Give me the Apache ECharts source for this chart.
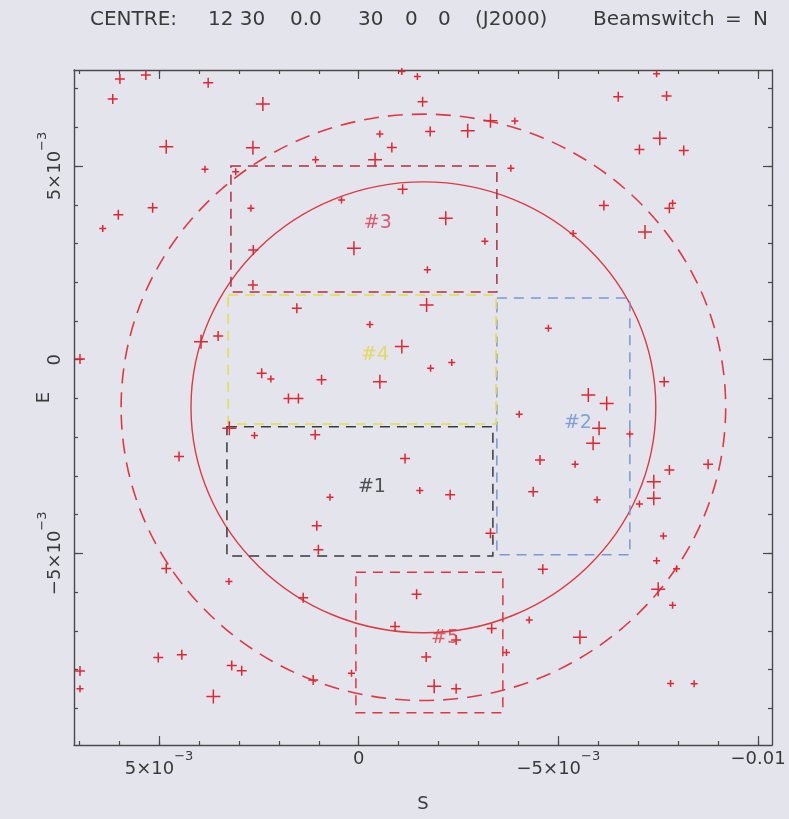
<!DOCTYPE html>
<html>
<head>
<meta charset="utf-8">
<title>Field map</title>
<script src="https://cdn.jsdelivr.net/npm/echarts@6/dist/echarts.min.js"></script>
<style>
  html, body { margin: 0; padding: 0; background: #e4e4ed; }
  #chart { width: 789px; height: 819px; }
</style>
</head>
<body>
<div id="chart"></div>
<script>
// Offsets from the field centre, in units of 1e-3 (S runs right-to-left).
const sourceS = [
  5.98, 5.33, 3.77, 6.16, 2.40, 4.82, 2.65, 3.85, 3.08, -0.53,
  -0.83, -0.41, 1.08, -1.10, 0.43, 6.02, 5.16, 6.41, 2.70, 0.12,
  2.64, 2.65, -1.08, 1.55, -1.47, -1.60, -6.50, -7.71, -7.46, -1.79,
  -2.73, -3.30, -3.91, -7.54, -7.03, -8.14, -3.81, -2.18, -3.16, -5.37,
  -6.14, -7.78, -7.86, -7.17, -1.72, -1.70, -0.28, -1.08, 3.95, 3.52,
  6.98, 2.43, 2.20, 0.93, -0.53, 1.76, 1.51, 3.24, 2.61, 1.09,
  4.50, -1.16, 0.72, 1.05, -4.75, -1.80, -2.33, -5.75, -6.21, -4.02,
  -6.02, -5.87, -6.79, -7.65, -4.54, -5.42, -7.78, -8.75, -7.39, -7.39,
  -7.03, -1.53, -2.29, -4.37, -5.97, 1.01, 4.82, 3.25, 1.39, -0.91,
  5.02, 4.43, 3.18, 2.93, 3.64, 1.14, 0.18, 6.98, 6.98, -3.30,
  -7.63, -7.46, -7.96, -7.50, -7.86, -4.61, -1.45, -4.27, -3.33, -2.44,
  -1.69, -5.54, -3.70, -1.89, -2.44, -7.81, -8.40
];
const sourceE = [
  7.25, 7.35, 7.15, 6.73, 6.60, 5.50, 5.47, 4.92, 4.85, 5.83,
  5.48, 5.16, 5.16, 4.40, 4.12, 3.74, 3.92, 3.39, 3.91, 2.88,
  2.83, 1.93, 7.44, 1.33, 7.31, 6.66, 6.79, 6.81, 7.38, 5.89,
  5.91, 6.17, 6.16, 5.72, 5.43, 5.40, 4.94, 3.65, 3.06, 3.26,
  3.98, 3.91, 4.04, 3.30, 2.32, 1.41, 0.91, 0.34, 0.46, 0.61,
  0.02, -0.35, -0.50, -0.52, -0.57, -1.00, -1.00, -1.77, -1.96, -1.94,
  -2.50, -2.55, -3.55, -4.29, 0.81, -0.22, -0.07, -0.91, -1.13, -1.41,
  -1.77, -2.16, -1.92, -0.57, -2.59, -2.70, -2.85, -2.70, -3.15, -3.58,
  -3.73, -3.38, -3.49, -3.41, -3.62, -4.91, -5.39, -5.73, -6.15, -6.89,
  -7.69, -7.62, -7.90, -8.03, -8.70, -8.27, -8.10, -8.04, -8.50, -4.48,
  -4.55, -5.19, -5.40, -5.93, -6.34, -5.41, -6.06, -6.72, -6.94, -7.24,
  -7.68, -7.17, -7.56, -8.43, -8.50, -8.36, -8.37
];
// Brightness class of each source: 1 faint, 2 medium, 3 bright.
const sourceClass = [
  2, 2, 2, 2, 3, 3, 3, 1, 1, 1,
  2, 3, 1, 2, 1, 2, 2, 1, 1, 3,
  2, 2, 1, 2, 1, 2, 2, 2, 1, 2,
  3, 3, 1, 3, 2, 2, 1, 3, 1, 1,
  2, 2, 1, 3, 1, 3, 1, 3, 3, 2,
  2, 2, 1, 2, 3, 2, 2, 3, 1, 2,
  2, 2, 1, 2, 1, 1, 1, 3, 3, 1,
  3, 3, 1, 2, 2, 1, 2, 2, 3, 3,
  1, 1, 2, 2, 1, 2, 2, 1, 2, 2,
  2, 2, 2, 2, 3, 2, 1, 2, 1, 2,
  1, 1, 1, 3, 1, 2, 2, 1, 2, 2,
  2, 3, 1, 3, 2, 1, 1
];

// Survey regions (S1, S2, E1, E2) and their tags.
const regionNames = ['#1', '#2', '#3', '#4', '#5'];
const regionS1 = [3.30, -3.46, 3.20, 3.27, 0.07];
const regionS2 = [-3.36, -6.79, -3.46, -3.44, -3.61];
const regionE1 = [-1.73, 1.59, 5.00, 1.67, -5.49];
const regionE2 = [-5.07, -5.04, 1.75, -1.66, -9.12];
const tagS = [-0.33, -5.49, -0.48, -0.41, -2.16];
const tagE = [-3.29, -1.63, 3.53, 0.12, -7.19];

// Beam circles: centre (S, E) and radius.
const beamCentreS = -1.62;
const beamCentreE = -1.23;
const beamRadii = [5.82, 7.57];

// Axis ticks (units of 1e-3).
const sMajorTicks = [-10, -5, 0, 5];
const eMajorTicks = [-5, 0, 5];
const sMinorTicks = [-10, -9, -8, -7, -6, -5, -4, -3, -2, -1, 0, 1, 2, 3, 4, 5, 6, 7];
const eMinorTicks = [-9, -8, -7, -6, -5, -4, -3, -2, -1, 0, 1, 2, 3, 4, 5, 6, 7];
const sRange = [-10.35, 7.13];
const eRange = [-9.95, 7.48];

// Header line, split into fields.
const headerParts = ['CENTRE:', '12 30', '0.0', '30', '0', '0', '(J2000)', 'Beamswitch', '=', 'N'];
const headerStops = [85, 203, 285, 353, 400, 433, 470, 588, 720, 748];

const INK = '#4a4a4a';
const TEXT = '#3a3a3a';
const RED = '#e2262f';
const FONT = '"DejaVu Sans", sans-serif';
const regionColors = ['#3a3a3a', '#7b97d6', '#b32c40', '#e6dc48', '#e0363d'];
const tagColors = ['#2a2a2a', '#6d8fd2', '#d63a4e', '#e2d640', '#e0363d'];
const classSize = { 1: 7, 2: 10, 3: 14 };

function tickLabel(v) {
  if (v === 0) return '0';
  if (v === -10) return '\u22120.01';
  const sign = v < 0 ? '\u2212' : '';
  return '{m|' + sign + Math.abs(v) + '\u00d710}{s|\u22123}';
}
const labelRich = {
  m: { fontSize: 18, fontFamily: FONT, color: TEXT, verticalAlign: 'bottom', lineHeight: 28 },
  s: { fontSize: 13, fontFamily: FONT, color: TEXT, verticalAlign: 'top', lineHeight: 15 }
};

const headerRich = {};
headerParts.forEach((p, i) => {
  headerRich['p' + i] = { fontSize: 20, fontFamily: FONT, color: TEXT,
    width: i < headerParts.length - 1 ? headerStops[i + 1] - headerStops[i] : undefined };
});
const headerText = headerParts.map((p, i) => '{p' + i + '|' + p + '}').join('');

const gridBox = { left: 74, right: 17, top: 70, bottom: 74 };

function sAxis(grid, pos, major, withLabel) {
  return {
    type: 'value', gridIndex: grid, position: pos, inverse: true,
    min: sRange[0], max: sRange[1],
    axisLine: { show: major, onZero: false, lineStyle: { color: INK, width: 1.4 } },
    axisTick: { show: true, inside: true, length: major ? 9 : 4,
      customValues: major ? sMajorTicks : sMinorTicks,
      lineStyle: { color: INK, width: 1.2 } },
    axisLabel: { show: withLabel, customValues: sMajorTicks, formatter: tickLabel,
      rich: labelRich, margin: 5, color: TEXT, fontSize: 18, fontFamily: FONT },
    splitLine: { show: false },
    name: withLabel ? 'S' : '', nameLocation: 'middle', nameGap: 50, nameMoveOverlap: false,
    nameTextStyle: { fontSize: 18, fontFamily: FONT, color: TEXT }
  };
}
function eAxis(grid, pos, major, withLabel) {
  return {
    type: 'value', gridIndex: grid, position: pos,
    min: eRange[0], max: eRange[1],
    axisLine: { show: major, onZero: false, lineStyle: { color: INK, width: 1.4 } },
    axisTick: { show: true, inside: true, length: major ? 9 : 4,
      customValues: major ? eMajorTicks : eMinorTicks,
      lineStyle: { color: INK, width: 1.2 } },
    axisLabel: { show: withLabel, customValues: eMajorTicks, formatter: tickLabel,
      rich: labelRich, rotate: 90, margin: 10, color: TEXT, fontSize: 18, fontFamily: FONT },
    splitLine: { show: false },
    name: withLabel ? 'E' : '', nameLocation: 'middle', nameGap: 21, nameRotate: 90,
    nameMoveOverlap: false,
    nameTextStyle: { fontSize: 18, fontFamily: FONT, color: TEXT, padding: [0, 0, 0, 20] }
  };
}

const sources = sourceS.map((s, i) => [s, sourceE[i], sourceClass[i]]);
const regions = regionNames.map((n, i) => [regionS1[i], regionS2[i], regionE1[i], regionE2[i], i]);
const tags = regionNames.map((n, i) => ({ name: n, value: [tagS[i], tagE[i], i],
  label: { color: tagColors[i] } }));
const beams = beamRadii.map((r, i) => [beamCentreS, beamCentreE, r, i]);

const chart = echarts.init(document.getElementById('chart'), null, { renderer: 'canvas' });
chart.setOption({
  backgroundColor: '#e4e4ed',
  animation: false,
  title: {
    text: headerText,
    left: headerStops[0], top: 5,
    textStyle: { fontSize: 20, fontWeight: 'normal', fontFamily: FONT, color: TEXT, rich: headerRich }
  },
  grid: [Object.assign({}, gridBox), Object.assign({}, gridBox)],
  xAxis: [sAxis(0, 'bottom', true, true), sAxis(0, 'top', true, false),
          sAxis(1, 'bottom', false, false), sAxis(1, 'top', false, false)],
  yAxis: [eAxis(0, 'left', true, true), eAxis(0, 'right', true, false),
          eAxis(1, 'left', false, false), eAxis(1, 'right', false, false)],
  series: [
    {
      type: 'custom', name: 'beams', xAxisIndex: 0, yAxisIndex: 0,
      data: beams,
      renderItem(params, api) {
        const c = api.coord([api.value(0), api.value(1)]);
        const r = api.size([api.value(2), api.value(2)]);
        const dashed = api.value(3) === 1;
        return {
          type: 'ellipse',
          shape: { cx: c[0], cy: c[1], rx: r[0], ry: r[1] },
          style: { fill: 'none', stroke: '#de3a40', lineWidth: dashed ? 1.6 : 1.4,
                   lineDash: dashed ? [15, 9] : null }
        };
      }
    },
    {
      type: 'custom', name: 'regions', xAxisIndex: 0, yAxisIndex: 0,
      data: regions,
      renderItem(params, api) {
        const a = api.coord([api.value(0), api.value(2)]);
        const b = api.coord([api.value(1), api.value(3)]);
        const k = api.value(4);
        return {
          type: 'rect',
          shape: { x: Math.min(a[0], b[0]), y: Math.min(a[1], b[1]),
                   width: Math.abs(b[0] - a[0]), height: Math.abs(b[1] - a[1]) },
          style: { fill: 'none', stroke: regionColors[k], lineWidth: 1.5, lineDash: [10, 7] }
        };
      }
    },
    {
      type: 'scatter', name: 'sources', xAxisIndex: 0, yAxisIndex: 0,
      data: sources,
      symbol: 'path://M0,-10 L0,10 M-10,0 L10,0',
      symbolSize: v => classSize[v[2]],
      itemStyle: { color: 'none', borderColor: RED, borderWidth: 1.5, opacity: 1 },
      z: 5
    },
    {
      type: 'scatter', name: 'tags', xAxisIndex: 0, yAxisIndex: 0,
      data: tags, symbolSize: 0,
      label: { show: true, position: 'inside', formatter: p => p.name,
               fontSize: 19, fontFamily: FONT },
      z: 6
    }
  ]
});
</script>
</body>
</html>
